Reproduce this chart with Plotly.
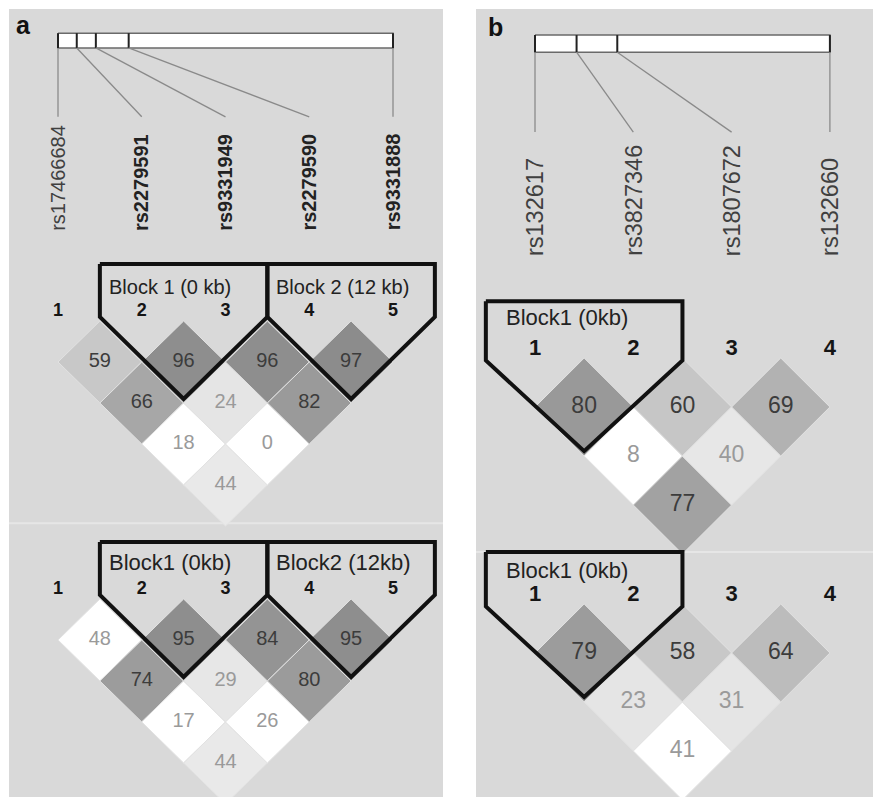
import plotly.graph_objects as go

FIG_W, FIG_H = 873, 797
FONT = "Liberation Sans, Arial, Helvetica, sans-serif"

# ---------------- data ----------------
# Panel a
a_snps = ["rs17466684", "rs2279591", "rs9331949", "rs2279590", "rs9331888"]
a_snp_bold = [False, True, True, True, True]
a_map_pos = [0.0, 0.056, 0.113, 0.211, 1.0]      # relative position along the region bar

# D' (x100): row i holds marker i against every marker j > i
a_upper_dprime = [[59, 66, 18, 44], [96, 24, 0], [96, 82], [97]]
a_lower_dprime = [[48, 74, 17, 44], [95, 29, 26], [84, 80], [95]]
a_upper_blocks = [(2, 3, "Block 1 (0 kb)"), (4, 5, "Block 2 (12 kb)")]
a_lower_blocks = [(2, 3, "Block1 (0kb)"), (4, 5, "Block2 (12kb)")]

# Panel b
b_snps = ["rs132617", "rs3827346", "rs1807672", "rs132660"]
b_snp_bold = [False, False, False, False]
b_map_pos = [0.0, 0.141, 0.279, 1.0]

b_upper_dprime = [[80, 8, 77], [60, 40], [69]]
b_lower_dprime = [[79, 23, 41], [58, 31], [64]]
b_upper_blocks = [(1, 2, "Block1 (0kb)")]
b_lower_blocks = [(1, 2, "Block1 (0kb)")]

# cell shading (grey level, 255 = white), same layout as the D' rows
a_upper_shade = [[200, 167, 255, 233], [142, 229, 255], [142, 154], [140]]
a_lower_shade = [[255, 156, 255, 233], [142, 231, 255], [148, 155], [142]]
b_upper_shade = [[153, 255, 162], [198, 231], [178]]
b_lower_shade = [[156, 229, 255], [200, 229], [188]]

# ---------------- geometry per panel ----------------
GEOM = {
    "a": dict(left=9, right=443, first_px=58, step_px=83.75, zero_px=321, unit_px=41,
              sep=4.93, bar=(-7.02, -6.66), line_end=-4.98, label_base=-2.15,
              idx_y=-0.22, side_bottom=-0.1, label_dx=-0.42,
              label_size=20, num_size=20, idx_size=18),
    "b": dict(left=476, right=873, first_px=535, step_px=98.3, zero_px=358, unit_px=49,
              sep=3.96, bar=(-6.59, -6.24), line_end=-4.61, label_base=-2.04,
              idx_y=-0.17, side_bottom=0.05, label_dx=-0.315,
              label_size=23.5, num_size=23, idx_size=22),
}

PANELS = [
    dict(key="a", xa="x", ya="y", snps=a_snps, bold=a_snp_bold, map_pos=a_map_pos,
         plots=[dict(dprime=a_upper_dprime, shade=a_upper_shade, blocks=a_upper_blocks,
                     offset=0.0, top=-1.39, label_y=-0.83, block_size=20),
                dict(dprime=a_lower_dprime, shade=a_lower_shade, blocks=a_lower_blocks,
                     offset=6.78, top=-1.39, label_y=-0.88, block_size=22)]),
    dict(key="b", xa="x2", ya="y2", snps=b_snps, bold=b_snp_bold, map_pos=b_map_pos,
         plots=[dict(dprime=b_upper_dprime, shade=b_upper_shade, blocks=b_upper_blocks,
                     offset=0.0, top=-1.16, label_y=-0.82, block_size=22),
                dict(dprime=b_lower_dprime, shade=b_lower_shade, blocks=b_lower_blocks,
                     offset=5.02, top=-1.06, label_y=-0.69, block_size=22)]),
]

fig = go.Figure()
annotations = []
shapes = []


def grey(v):
    return f"rgb({v},{v},{v})"


for p in PANELS:
    g = GEOM[p["key"]]
    xa, ya = p["xa"], p["ya"]
    n = len(p["snps"])

    # ---- region bar with marker ticks ----
    bt, bb = g["bar"]
    fig.add_trace(go.Scatter(x=[1, n, n, 1, 1], y=[bt, bt, bb, bb, bt], mode="lines",
                             fill="toself", fillcolor="white",
                             line=dict(color="#6a6a6a", width=1.5),
                             xaxis=xa, yaxis=ya, hoverinfo="skip"))
    for i, frac in enumerate(p["map_pos"]):
        tx = 1 + frac * (n - 1)
        fig.add_trace(go.Scatter(x=[tx, tx], y=[bt, bb], mode="lines",
                                 line=dict(color="#222222", width=2),
                                 xaxis=xa, yaxis=ya, hoverinfo="skip"))
        fig.add_trace(go.Scatter(x=[tx, i + 1], y=[bb, g["line_end"]], mode="lines",
                                 line=dict(color="#8a8a8a", width=1.3),
                                 xaxis=xa, yaxis=ya, hoverinfo="skip"))
        name = p["snps"][i]
        annotations.append(dict(
            x=i + 1, y=g["label_base"], xref=xa, yref=ya,
            text=f"<b>{name}</b>" if p["bold"][i] else name,
            textangle=-90, showarrow=False, xanchor="center", yanchor="bottom",
            font=dict(family=FONT, size=g["label_size"],
                      color="#222222" if p["bold"][i] else "#404040")))

    # ---- LD triangles ----
    for k, plot in enumerate(p["plots"]):
        off = plot["offset"]
        if k > 0:
            shapes.append(dict(type="line", xref=f"{xa} domain", yref=ya,
                               x0=0, x1=1, y0=g["sep"], y1=g["sep"],
                               line=dict(color="#e6e6e6", width=2), layer="below"))
        # marker index numbers
        fig.add_trace(go.Scatter(
            x=list(range(1, n + 1)), y=[g["idx_y"] + off] * n, mode="text",
            text=[f"<b>{i}</b>" for i in range(1, n + 1)],
            textfont=dict(family=FONT, size=g["idx_size"], color="#151515"),
            xaxis=xa, yaxis=ya, hoverinfo="skip"))

        tx, ty, tt, tc = [], [], [], []
        for i, row in enumerate(plot["dprime"], start=1):
            for m, val in enumerate(row):
                j = i + 1 + m
                shade = plot["shade"][i - 1][m]
                cx, cy = (i + j) / 2, (j - i) + off
                fig.add_trace(go.Scatter(
                    x=[cx - 0.5, cx, cx + 0.5, cx, cx - 0.5],
                    y=[cy, cy - 1, cy, cy + 1, cy], mode="lines", fill="toself",
                    fillcolor=grey(shade), line=dict(color="#e2e2e2", width=1),
                    xaxis=xa, yaxis=ya, hoverinfo="skip"))
                tx.append(cx)
                ty.append(cy)
                tt.append(str(val))
                tc.append("#9a9a9a" if shade >= 215 else "#3c3c3c")
        fig.add_trace(go.Scatter(x=tx, y=ty, mode="text", text=tt,
                                 textfont=dict(family=FONT, size=g["num_size"], color=tc),
                                 xaxis=xa, yaxis=ya, hoverinfo="skip"))

        # haplotype block outlines
        for f, l, label in plot["blocks"]:
            top = plot["top"] + off
            sb = g["side_bottom"] + off
            fig.add_trace(go.Scatter(
                x=[f - 0.5, l + 0.5, l + 0.5, (f + l) / 2, f - 0.5, f - 0.5],
                y=[top, top, sb, (l - f) + 0.9 + off, sb, top], mode="lines",
                line=dict(color="#111111", width=4),
                xaxis=xa, yaxis=ya, hoverinfo="skip"))
            annotations.append(dict(
                x=f + g["label_dx"], y=plot["label_y"] + off, xref=xa, yref=ya,
                text=label, showarrow=False, xanchor="left", yanchor="middle",
                font=dict(family=FONT, size=plot["block_size"], color="#222222")))

# panel letters
for letter, px, py in [("a", 23, 25), ("b", 495, 27)]:
    annotations.append(dict(x=px / FIG_W, y=1 - py / FIG_H, xref="paper", yref="paper",
                            text=f"<b>{letter}</b>", showarrow=False,
                            xanchor="center", yanchor="middle",
                            font=dict(family=FONT, size=25, color="#111111")))


def x_axis(key):
    g = GEOM[key]
    r0 = 1 - (g["first_px"] - g["left"]) / g["step_px"]
    r1 = 1 + (g["right"] - g["first_px"]) / g["step_px"]
    return dict(domain=[g["left"] / FIG_W, g["right"] / FIG_W], range=[r0, r1],
                showgrid=False, zeroline=False, showticklabels=False, ticks="",
                showline=False, fixedrange=True)


def y_axis(key, anchor):
    g = GEOM[key]
    top_px = 9
    lo = (top_px - g["zero_px"]) / g["unit_px"]
    hi = (FIG_H - g["zero_px"]) / g["unit_px"]
    return dict(domain=[0, 1 - top_px / FIG_H], range=[hi, lo], anchor=anchor,
                showgrid=False, zeroline=False, showticklabels=False, ticks="",
                showline=False, fixedrange=True)


xa_a = x_axis("a")
xa_a["anchor"] = "y"
xa_b = x_axis("b")
xa_b["anchor"] = "y2"

fig.update_layout(
    width=FIG_W, height=FIG_H,
    margin=dict(l=0, r=0, t=0, b=0),
    paper_bgcolor="white", plot_bgcolor="#d9d9d9",
    showlegend=False,
    xaxis=xa_a, yaxis=y_axis("a", "x"),
    xaxis2=xa_b, yaxis2=y_axis("b", "x2"),
    annotations=annotations, shapes=shapes,
)

fig.write_html("out.html")
